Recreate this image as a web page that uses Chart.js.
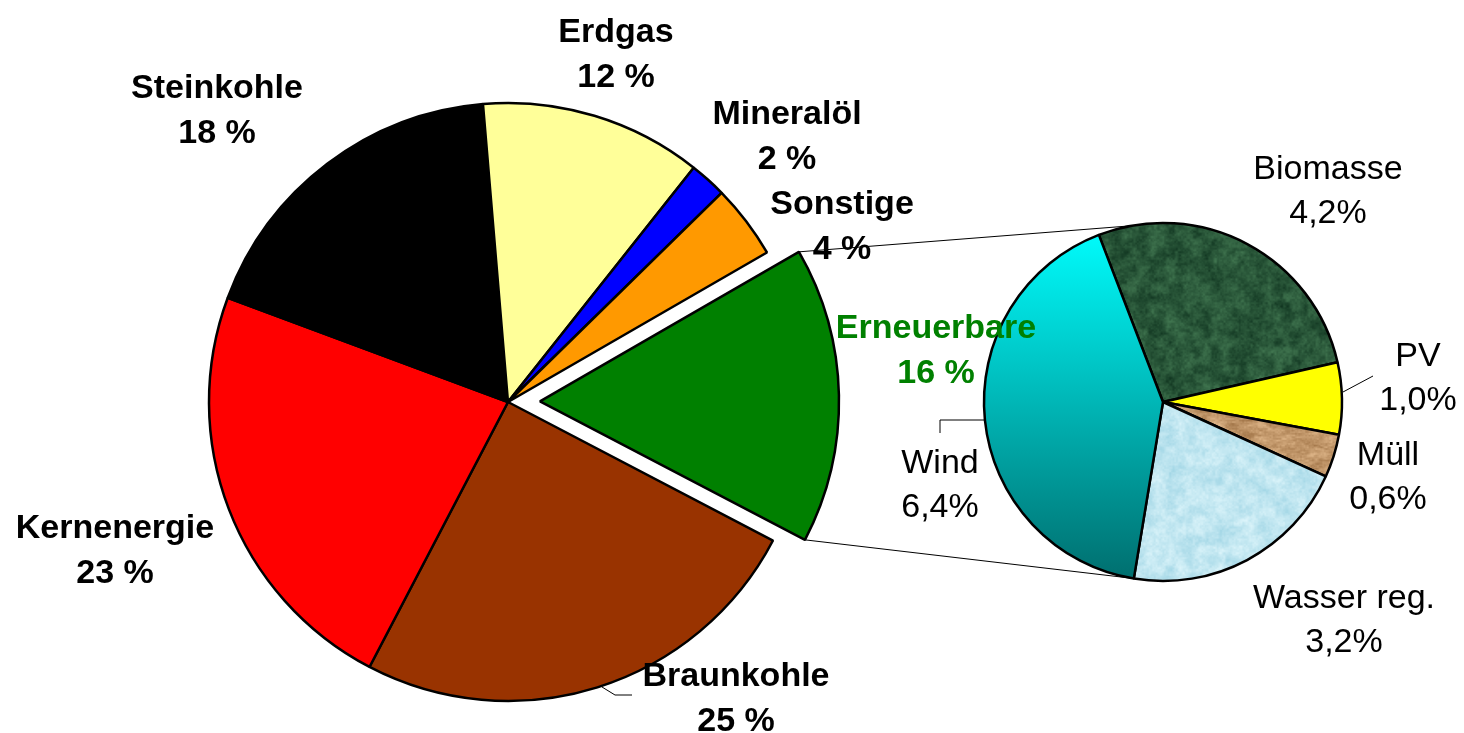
<!DOCTYPE html>
<html lang="de">
<head>
  <meta charset="UTF-8">
  <title>Energiemix Stromerzeugung</title>
  <style>
    html, body { margin: 0; padding: 0; background: #ffffff; }
    #wrap { position: relative; width: 1464px; height: 733px; overflow: hidden; }
    #wrap canvas { position: absolute; left: 0; top: 0; }
    #subChart { z-index: 1; }
    #mainChart { z-index: 2; }
  </style>
</head>
<body>
  <div id="wrap">
    <canvas id="subChart" width="1464" height="733"></canvas>
    <canvas id="mainChart" width="1464" height="733"></canvas>
  </div>

  <script src="https://cdn.jsdelivr.net/npm/chart.js@4.4.3/dist/chart.umd.min.js"></script>
  <script>
    // Main pie (share in %)
    const mainLabels = ['Erneuerbare', 'Braunkohle', 'Kernenergie', 'Steinkohle', 'Erdgas', 'Mineralöl', 'Sonstige'];
    const mainValues = [16, 25, 23, 18, 12, 2, 4];

    // Renewables breakdown (share in %)
    const subLabels = ['Biomasse', 'PV', 'Müll', 'Wasser reg.', 'Wind'];
    const subValues = [4.2, 1.0, 0.6, 3.2, 6.4];

    // --- styling / layout ---
    const FONT = "'Liberation Sans', Arial, sans-serif";
    const mainColors = ['#008000', '#993300', '#ff0000', '#000000', '#ffff99', '#0000ff', '#ff9900'];
    const mainTextColors = ['#008000', '#000', '#000', '#000', '#000', '#000', '#000'];
    const explodeDist = [32, 0, 0, 0, 0, 0, 0];
    // label block centre, offset from pie centre (px)
    const mainLabelPos = [[428, -54], [228, 294], [-393, 146], [-291, -294], [108, -350], [279, -268], [334, -178]];
    const subLabelPos = [[165, -213], [255, -26], [225, 73], [181, 216], [-223, 81]];
    // leader lines, offsets from pie centre
    const mainLeaders = { 1: [[94, 285], [107, 293], [124, 293]] };
    const subLeaders = { 1: [[180, -10], [210, -26]], 4: [[-179, 18], [-223, 18], [-223, 31]] };
    const connectAngles = [-100, 100]; // where the connectors meet the small pie

    const subCanvas = document.getElementById('subChart');
    const subCtx = subCanvas.getContext('2d');

    // simple value noise for the textured slices
    function hash(i, j) {
      const s = Math.sin(i * 127.1 + j * 311.7) * 43758.5453;
      return s - Math.floor(s);
    }
    function vnoise(x, y) {
      const i = Math.floor(x), j = Math.floor(y);
      const fx = x - i, fy = y - j;
      const u = fx * fx * (3 - 2 * fx), v = fy * fy * (3 - 2 * fy);
      const a = hash(i, j), b = hash(i + 1, j), c = hash(i, j + 1), d = hash(i + 1, j + 1);
      return a + (b - a) * u + (c - a) * v + (a - b - c + d) * u * v;
    }
    function texture(lo, hi, sx, sy) {
      const cv = document.createElement('canvas');
      cv.width = subCanvas.width;
      cv.height = subCanvas.height;
      const c = cv.getContext('2d');
      const img = c.createImageData(cv.width, cv.height);
      for (let y = 0; y < cv.height; y++) {
        for (let x = 0; x < cv.width; x++) {
          const n = 0.5 * vnoise(x / sx, y / sy) + 0.3 * vnoise(x / (sx / 3), y / (sy / 3)) + 0.2 * vnoise(x / 1.7, y / 1.7);
          const k = (y * cv.width + x) * 4;
          img.data[k] = lo[0] + (hi[0] - lo[0]) * n;
          img.data[k + 1] = lo[1] + (hi[1] - lo[1]) * n;
          img.data[k + 2] = lo[2] + (hi[2] - lo[2]) * n;
          img.data[k + 3] = 255;
        }
      }
      c.putImageData(img, 0, 0);
      return subCtx.createPattern(cv, 'no-repeat');
    }

    const bioFill = texture([14, 50, 30], [70, 125, 85], 9, 9);
    const muellFill = texture([150, 105, 60], [235, 195, 150], 14, 5);
    const wasserFill = texture([158, 212, 228], [225, 247, 252], 10, 10);

    function subColor(ctx) {
      const i = ctx.dataIndex;
      if (i === 0) return bioFill;
      if (i === 1) return '#ffff00';
      if (i === 2) return muellFill;
      if (i === 3) return wasserFill;
      const area = ctx.chart.chartArea;
      if (!area) return '#00c0c0';
      const cy = (area.top + area.bottom) / 2;
      const r = ctx.chart.options.radius;
      const g = ctx.chart.ctx.createLinearGradient(0, cy - r, 0, cy + r);
      g.addColorStop(0, '#00ffff');
      g.addColorStop(1, '#006e6e');
      return g;
    }

    function drawBlock(ctx, x, y, lines, color, weight, gap) {
      ctx.save();
      ctx.font = weight + ' 34px ' + FONT;
      ctx.fillStyle = color;
      ctx.textAlign = 'center';
      ctx.textBaseline = 'alphabetic';
      ctx.fillText(lines[0], x, y - gap / 2 + 12);
      ctx.fillText(lines[1], x, y + gap / 2 + 12);
      ctx.restore();
    }

    function drawPolyline(ctx, cx, cy, pts) {
      ctx.beginPath();
      pts.forEach((p, k) => k ? ctx.lineTo(cx + p[0], cy + p[1]) : ctx.moveTo(cx + p[0], cy + p[1]));
      ctx.stroke();
    }

    // shifts exploded slices outwards along their mid angle
    const explodePlugin = {
      id: 'explode',
      afterUpdate(chart) {
        chart.getDatasetMeta(0).data.forEach((arc, i) => {
          const dist = explodeDist[i];
          if (!dist || arc._explodeWrapped) return;
          const baseDraw = arc.draw;
          arc.draw = function (ctx, area) {
            const mid = (this.startAngle + this.endAngle) / 2;
            ctx.save();
            ctx.translate(Math.cos(mid) * dist, Math.sin(mid) * dist);
            baseDraw.call(this, ctx, area);
            ctx.restore();
          };
          arc._explodeWrapped = true;
        });
      }
    };

    const subLabelPlugin = {
      id: 'subLabels',
      afterDraw(chart) {
        const ctx = chart.ctx;
        const arc0 = chart.getDatasetMeta(0).data[0];
        const cx = arc0.x, cy = arc0.y;
        ctx.save();
        ctx.strokeStyle = '#000';
        ctx.lineWidth = 1;
        Object.keys(subLeaders).forEach(k => drawPolyline(ctx, cx, cy, subLeaders[k]));
        ctx.restore();
        subLabels.forEach((name, i) => {
          const pct = subValues[i].toFixed(1).replace('.', ',') + '%';
          drawBlock(ctx, cx + subLabelPos[i][0], cy + subLabelPos[i][1], [name, pct], '#000', 'normal', 44);
        });
      }
    };

    const subChart = new Chart(subCanvas, {
      type: 'pie',
      data: {
        labels: subLabels,
        datasets: [{
          data: subValues,
          backgroundColor: subColor,
          borderColor: '#000',
          borderWidth: 2.5
        }]
      },
      options: {
        responsive: false,
        animation: false,
        events: [],
        radius: 179,
        rotation: -21,
        layout: { padding: { left: 862, right: 0, top: 71, bottom: 0 } },
        plugins: { legend: { display: false }, tooltip: { enabled: false } }
      },
      plugins: [subLabelPlugin]
    });

    const mainLabelPlugin = {
      id: 'mainLabels',
      afterDraw(chart) {
        const ctx = chart.ctx;
        const arcs = chart.getDatasetMeta(0).data;
        const cx = arcs[0].x, cy = arcs[0].y;

        // connectors from the exploded slice to the small pie
        const g = arcs[0];
        const mid = (g.startAngle + g.endAngle) / 2;
        const ox = g.x + Math.cos(mid) * explodeDist[0];
        const oy = g.y + Math.sin(mid) * explodeDist[0];
        const s = subChart.getDatasetMeta(0).data[0];
        const corners = [g.startAngle, g.endAngle];
        ctx.save();
        ctx.strokeStyle = '#000';
        ctx.lineWidth = 1;
        corners.forEach((a, k) => {
          const t = connectAngles[k] * Math.PI / 180;
          ctx.beginPath();
          ctx.moveTo(ox + Math.cos(a) * g.outerRadius, oy + Math.sin(a) * g.outerRadius);
          ctx.lineTo(s.x + Math.cos(t) * s.outerRadius, s.y + Math.sin(t) * s.outerRadius);
          ctx.stroke();
        });
        Object.keys(mainLeaders).forEach(k => drawPolyline(ctx, cx, cy, mainLeaders[k]));
        ctx.restore();

        mainLabels.forEach((name, i) => {
          drawBlock(ctx, cx + mainLabelPos[i][0], cy + mainLabelPos[i][1], [name, mainValues[i] + ' %'], mainTextColors[i], 'bold', 45);
        });
      }
    };

    const mainChart = new Chart(document.getElementById('mainChart'), {
      type: 'pie',
      data: {
        labels: mainLabels,
        datasets: [{
          data: mainValues,
          backgroundColor: mainColors,
          borderColor: '#000',
          borderWidth: 2.5
        }]
      },
      options: {
        responsive: false,
        animation: false,
        events: [],
        radius: 299,
        rotation: 60,
        layout: { padding: { left: 0, right: 448, top: 71, bottom: 0 } },
        plugins: { legend: { display: false }, tooltip: { enabled: false } }
      },
      plugins: [explodePlugin, mainLabelPlugin]
    });
  </script>
</body>
</html>
